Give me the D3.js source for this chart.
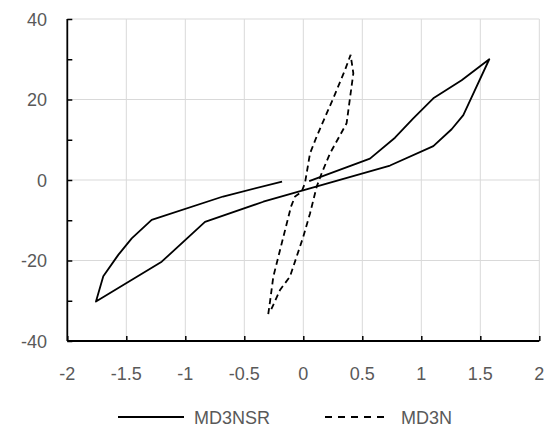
<!DOCTYPE html>
<html>
<head>
<meta charset="utf-8">
<script src="https://cdn.jsdelivr.net/npm/d3@7"></script>
<style>
  html, body { margin: 0; padding: 0; background: #fff; }
  svg { display: block; }
  text { font-family: "Liberation Sans", Arial, sans-serif; }
</style>
</head>
<body>
<svg id="chart" width="547" height="427"></svg>
<script>
// ---- data ----
const seriesNames = ["MD3NSR", "MD3N"];
const md3nsrX = [-0.18, -0.68, -1.285, -1.454, -1.568, -1.695, -1.757, -1.2, -0.833, -0.339, 0.735, 1.102, 1.257, 1.356, 1.576, 1.342, 1.102, 0.932, 0.777, 0.565, 0.05];
const md3nsrY = [-0.4, -4.1, -9.9, -14.5, -18.6, -23.9, -30.2, -20.3, -10.4, -5.4, 3.6, 8.4, 12.6, 16.1, 30.0, 24.8, 20.3, 15.3, 10.5, 5.3, -0.3];
const md3nX = [-0.297, -0.282, -0.254, -0.104, -0.07, -0.014, 0.014, 0.057, 0.113, 0.254, 0.353, 0.401, 0.424, 0.367, 0.226, 0.156, 0.113, 0.057, 0.0, -0.113, -0.197, -0.28];
const md3nY = [-33.3, -30.2, -24.0, -6.6, -4.1, -2.9, -0.8, 6.6, 10.8, 20.3, 27.3, 31.1, 26.5, 14.1, 6.6, 1.7, -1.7, -8.3, -14.1, -24.0, -27.3, -32.7];
const xTicks = [-2, -1.5, -1, -0.5, 0, 0.5, 1, 1.5, 2];
const yTicks = [-40, -20, 0, 20, 40];
const yMinorTicks = [-40, -30, -20, -10, 0, 10, 20, 30, 40];

// ---- layout ----
const svg = d3.select("#chart");
const pLeft = 67.3, pRight = 539.3, pTop = 19, pBottom = 341;
const x = d3.scaleLinear().domain([-2, 2]).range([pLeft, pRight]);
const y = d3.scaleLinear().domain([-40, 40]).range([pBottom, pTop]);
const labelColor = "#595959";
const fs = 18;

// gridlines
const grid = svg.append("g");
grid.selectAll("line.v").data(xTicks.filter(d => d > -2)).enter().append("line")
  .attr("x1", d => x(d)).attr("x2", d => x(d)).attr("y1", pTop).attr("y2", pBottom)
  .attr("stroke", "#d9d9d9").attr("stroke-width", 1);
grid.selectAll("line.h").data(yTicks.filter(d => d > -40)).enter().append("line")
  .attr("x1", pLeft).attr("x2", pRight).attr("y1", d => y(d)).attr("y2", d => y(d))
  .attr("stroke", "#d9d9d9").attr("stroke-width", 1);

// axes (ticks inside)
const xAxis = d3.axisTop(x).tickValues(xTicks).tickSize(5).tickFormat("");
const gx = svg.append("g").attr("transform", `translate(0,${pBottom})`).call(xAxis);
gx.select(".domain").attr("d", `M${pLeft},0H${pRight}`).attr("stroke", "#000").attr("stroke-width", 1.8);
gx.selectAll(".tick line").attr("stroke", "#000").attr("stroke-width", 1.5);

const yAxis = d3.axisRight(y).tickValues(yMinorTicks).tickSize(5).tickFormat("");
const gy = svg.append("g").attr("transform", `translate(${pLeft},0)`).call(yAxis);
gy.select(".domain").attr("d", `M0,${pTop}V${pBottom}`).attr("stroke", "#000").attr("stroke-width", 1.8);
gy.selectAll(".tick line").attr("stroke", "#000").attr("stroke-width", 1.5);

// tick labels
svg.append("g").selectAll("text").data(xTicks).enter().append("text")
  .attr("x", d => x(d)).attr("y", 380)
  .attr("text-anchor", "middle").attr("fill", labelColor).attr("font-size", fs)
  .text(d => String(d));
svg.append("g").selectAll("text").data(yTicks).enter().append("text")
  .attr("x", 47).attr("y", d => y(d) + 6.5)
  .attr("text-anchor", "end").attr("fill", labelColor).attr("font-size", fs)
  .text(d => String(d));

// series
const line = d3.line().x(d => x(d[0])).y(d => y(d[1]));
const nsr = md3nsrX.map((v, i) => [v, md3nsrY[i]]);
const n = md3nX.map((v, i) => [v, md3nY[i]]);
svg.append("path").datum(nsr).attr("d", line)
  .attr("fill", "none").attr("stroke", "#000").attr("stroke-width", 1.8).attr("stroke-linejoin", "round");
svg.append("path").datum(n).attr("d", line)
  .attr("fill", "none").attr("stroke", "#000").attr("stroke-width", 1.8).attr("stroke-dasharray", "6,4");

// legend
const lg = svg.append("g");
const ly = 417;
lg.append("line").attr("x1", 118).attr("x2", 184).attr("y1", ly).attr("y2", ly)
  .attr("stroke", "#000").attr("stroke-width", 1.8);
lg.append("text").attr("x", 194).attr("y", ly + 6.5).attr("fill", labelColor).attr("font-size", fs).text(seriesNames[0]);
lg.append("line").attr("x1", 325).attr("x2", 389).attr("y1", ly).attr("y2", ly)
  .attr("stroke", "#000").attr("stroke-width", 1.8).attr("stroke-dasharray", "7,6");
lg.append("text").attr("x", 401).attr("y", ly + 6.5).attr("fill", labelColor).attr("font-size", fs).text(seriesNames[1]);
</script>
</body>
</html>
